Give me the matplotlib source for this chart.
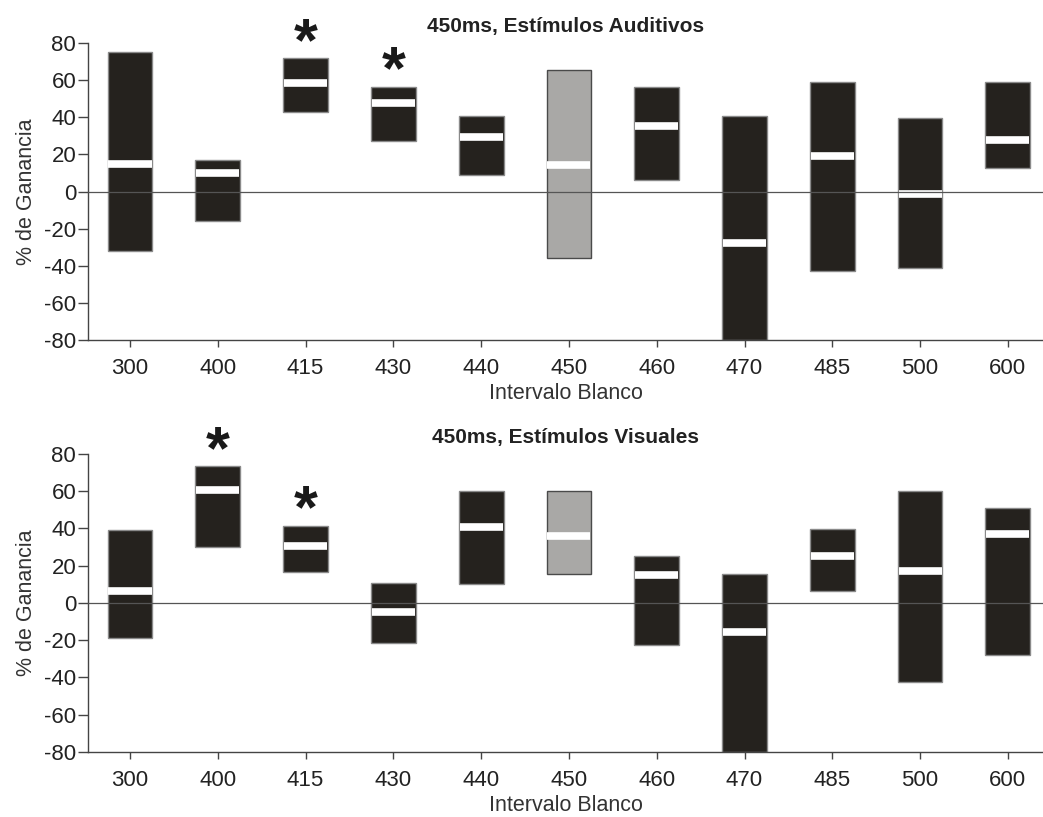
import matplotlib
matplotlib.use('Agg')
import matplotlib.pyplot as plt

plt.rcParams['font.family'] = ['Liberation Sans', 'DejaVu Sans']
plt.rcParams['axes.unicode_minus'] = False

intervalos = ['300', '400', '415', '430', '440', '450', '460', '470', '485', '500', '600']

# auditory stimuli: lower edge, median, upper edge (% gain)
aud_low = [-32, -16, 43, 27, 9, -36, 6, -80, -43, -41, 12.5]
aud_med = [15, 10, 58.5, 47.5, 29.5, 14.5, 35.5, -27.5, 19, -1.5, 28]
aud_high = [75, 17, 72, 56.5, 40.5, 65.5, 56.5, 40.5, 59, 39.5, 59]
aud_sig = ['415', '430']

# visual stimuli
vis_low = [-19, 30, 16.5, -21.5, 10, 15.5, -22.5, -80, 6.5, -42.5, -28]
vis_med = [6.5, 60.5, 30.5, -5, 41, 36, 15, -15.5, 25, 17, 37]
vis_high = [39, 73.5, 41.5, 10.5, 60, 60, 25, 15.5, 39.5, 60, 51]
vis_sig = ['400', '415']

control = '450'


def draw_panel(ax, low, med, high, sig, title):
    w = 0.51
    x = range(len(intervalos))
    colors = ['#a9a8a6' if c == control else '#25221e' for c in intervalos]
    edges = ['#4a4a4a' if c == control else '#8a8a8a' for c in intervalos]
    heights = [h - l for h, l in zip(high, low)]
    ax.bar(x, heights, bottom=low, width=w, color=colors, edgecolor=edges,
           linewidth=1.0, zorder=2)
    ax.hlines(med, [i - w / 2 + 0.01 for i in x], [i + w / 2 - 0.01 for i in x],
              color='white', linewidth=5.5, zorder=3)
    ax.axhline(0, color='#555555', linewidth=0.9, zorder=4)
    # significance asterisks above the box
    fs = 44
    for i, c in enumerate(intervalos):
        if c in sig:
            ax.annotate('*', (i, high[i] + 18), xytext=(0, -0.58 * fs),
                        textcoords='offset points', ha='center', va='baseline',
                        fontsize=fs, fontweight='bold', color='#1a1a1a',
                        annotation_clip=False)
    ax.set_xlim(-0.478, 10.4)
    ax.set_ylim(-80, 80)
    ax.set_yticks(range(-80, 81, 20))
    ax.set_xticks(list(x))
    ax.set_xticklabels(intervalos)
    for s in ['top', 'right']:
        ax.spines[s].set_visible(False)
    for s in ['left', 'bottom']:
        ax.spines[s].set_color('#444444')
        ax.spines[s].set_linewidth(1.0)
    ax.tick_params(axis='y', length=7, width=1, color='#444444', labelsize=16,
                   labelcolor='#222222', pad=1.5)
    ax.tick_params(axis='x', length=5, width=1, color='#444444', labelsize=16,
                   labelcolor='#222222', pad=8)
    ax.set_ylabel('% de Ganancia', fontsize=15.5, color='#333333', labelpad=5)
    ax.set_xlabel('Intervalo Blanco', fontsize=15.5, color='#333333', labelpad=3)
    ax.set_title(title, fontsize=15, fontweight='bold', color='#222222', pad=8)


fig = plt.figure(figsize=(10.43, 8.17), dpi=100)
ax1 = fig.add_axes([0.0844, 0.5838, 0.9156, 0.3636])
ax2 = fig.add_axes([0.0844, 0.0796, 0.9156, 0.3647])

draw_panel(ax1, aud_low, aud_med, aud_high, aud_sig, '450ms, Estímulos Auditivos')
draw_panel(ax2, vis_low, vis_med, vis_high, vis_sig, '450ms, Estímulos Visuales')

fig.savefig('out.png', dpi=100)
